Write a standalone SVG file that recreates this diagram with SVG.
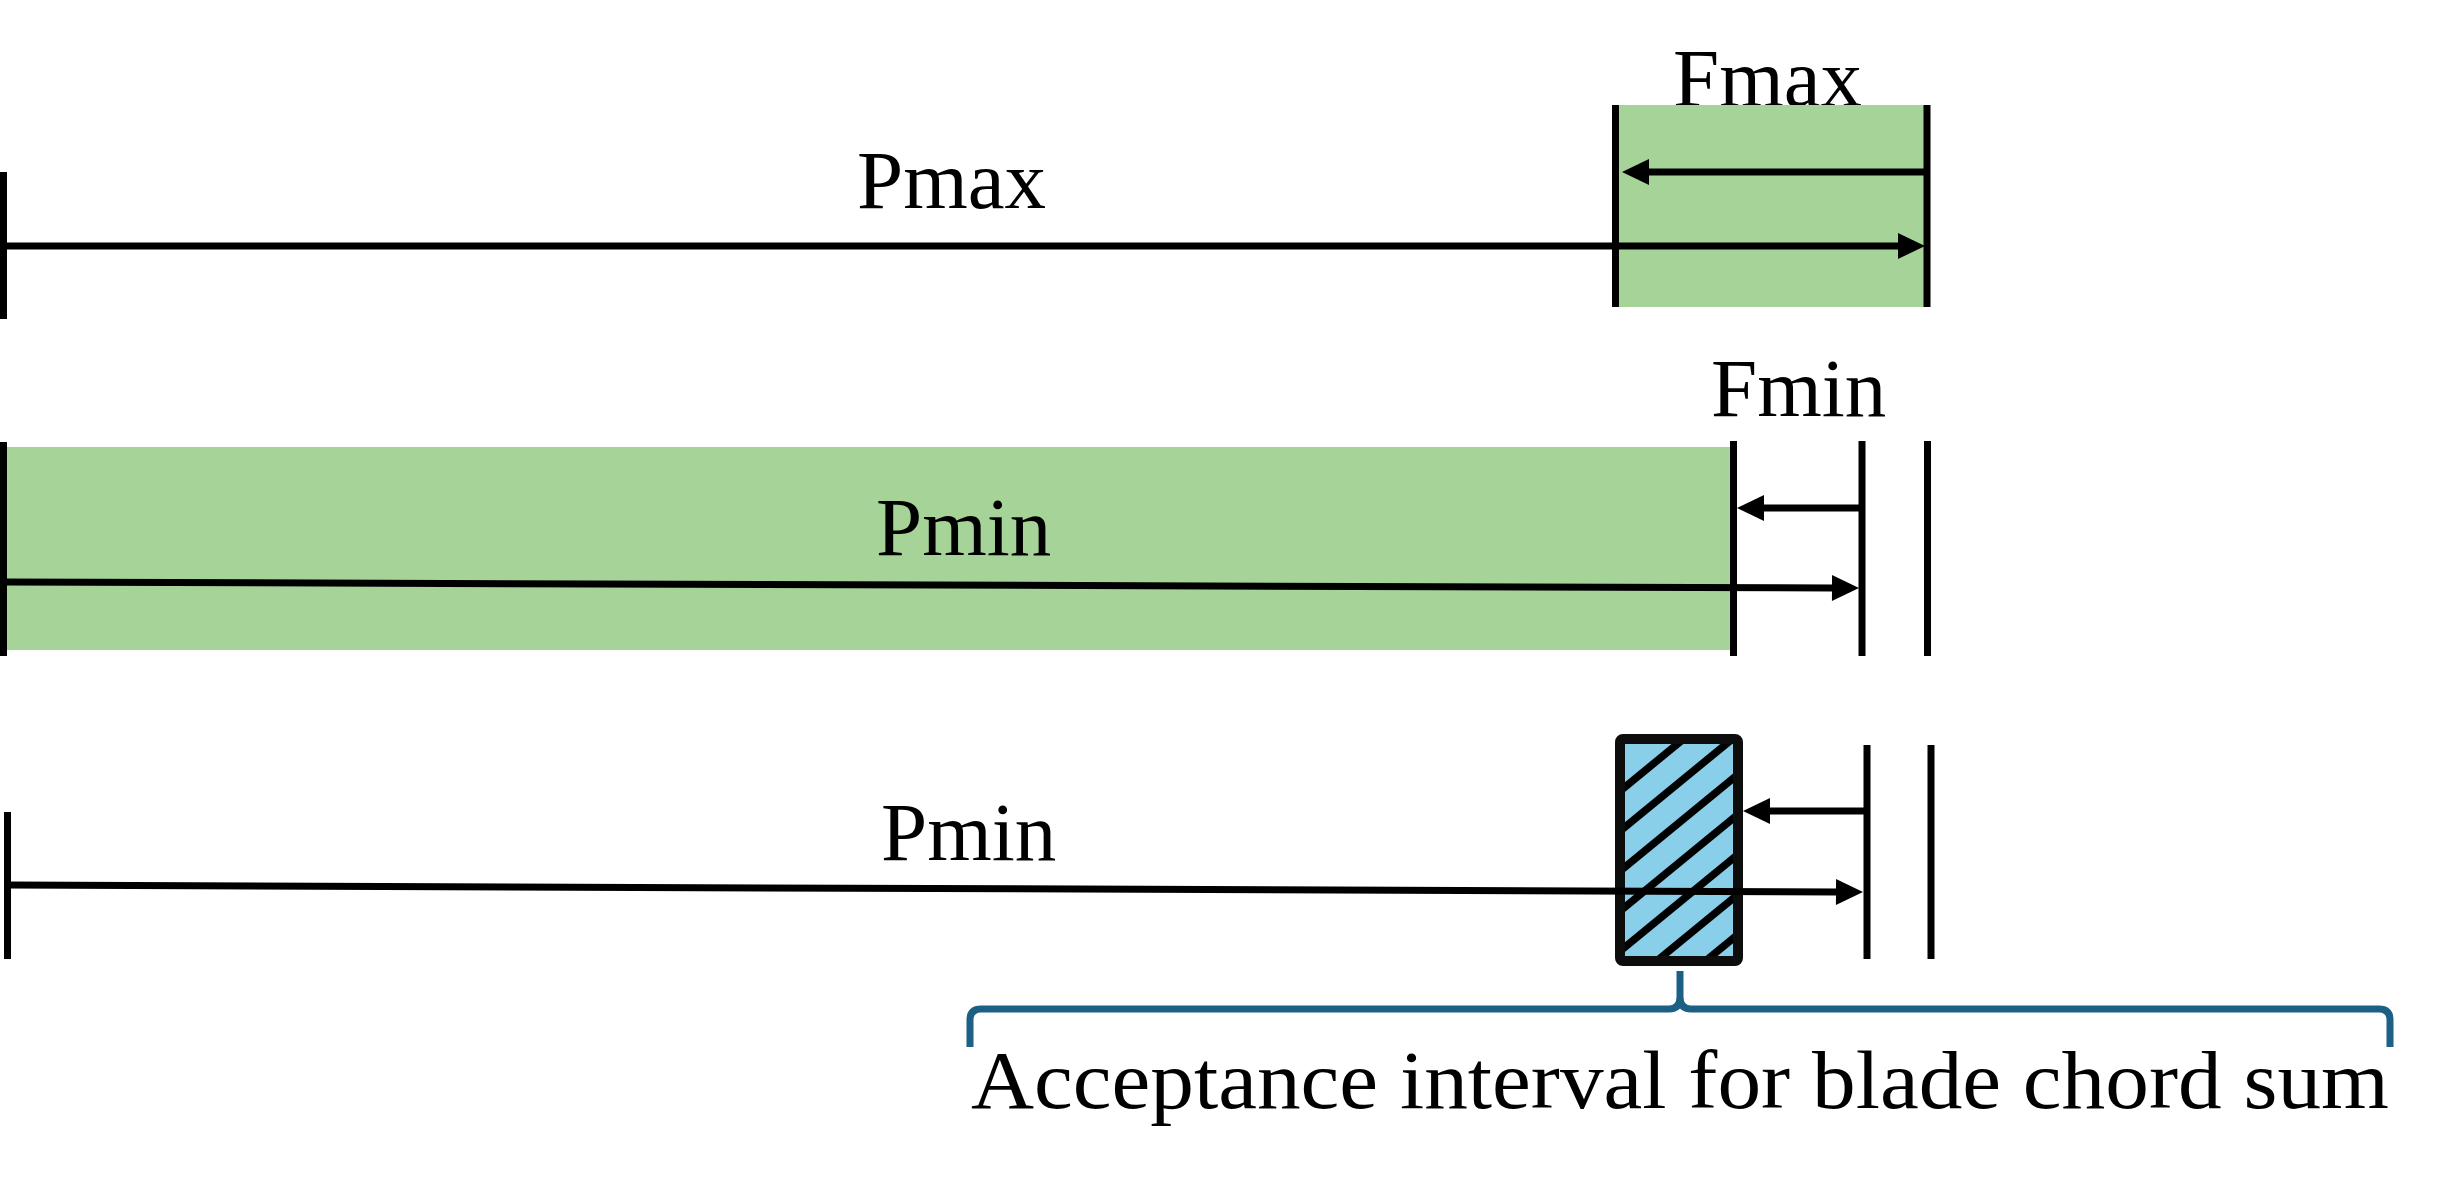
<svg xmlns="http://www.w3.org/2000/svg" width="2461" height="1178" viewBox="0 0 2461 1178">
<style>
.bar{stroke:#000;stroke-width:7;fill:none}
.ln{stroke:#000;stroke-width:7;fill:none}
.arr{stroke:#000;stroke-width:7;fill:none;marker-end:url(#ah)}
.lbl{font-family:"Liberation Serif","Times New Roman",serif;font-size:83px;fill:#000}
.green{fill:#A6D498}
.hatch{stroke:#000;stroke-width:7.5}
.brace{stroke:#1C6185;stroke-width:7;fill:none;stroke-linejoin:round}
</style>
<defs>
<marker id="ah" markerUnits="userSpaceOnUse" markerWidth="28" markerHeight="26" refX="1" refY="13" orient="auto" overflow="visible">
<path d="M0,0 L27,13 L0,26 Z" fill="#000"/>
</marker>
<clipPath id="hc"><rect x="1620" y="739" width="118" height="222"/></clipPath>
</defs>

<g id="row1">
<text class="lbl" x="857" y="208">Pmax</text>
<text class="lbl" x="1673" y="106">Fmax</text>
<rect class="green" x="1615" y="105" width="312" height="202"/>
<line class="bar" x1="3.5" y1="172" x2="3.5" y2="319"/>
<line class="bar" x1="1615.5" y1="105" x2="1615.5" y2="307"/>
<line class="bar" x1="1927" y1="105" x2="1927" y2="307"/>
</g>

<g id="row2">
<rect class="green" x="7" y="447" width="1723" height="203"/>
<text class="lbl" x="876" y="555">Pmin</text>
<text class="lbl" x="1711" y="416">Fmin</text>
<line class="bar" x1="3.5" y1="442" x2="3.5" y2="656"/>
<line class="bar" x1="1733.5" y1="441" x2="1733.5" y2="656"/>
<line class="bar" x1="1862" y1="441" x2="1862" y2="656"/>
<line class="bar" x1="1927.5" y1="441" x2="1927.5" y2="656"/>
</g>

<g id="row3">
<text class="lbl" x="881" y="860">Pmin</text>
<line class="bar" x1="7.5" y1="812" x2="7.5" y2="959"/>
<line class="bar" x1="1867" y1="745" x2="1867" y2="959"/>
<line class="bar" x1="1931" y1="745" x2="1931" y2="959"/>
</g>

<g id="acceptance-box">
<rect x="1620" y="739" width="118" height="222" fill="#89CFEA"/>
<g clip-path="url(#hc)">
<line class="hatch" x1="1600" y1="807.5" x2="1760" y2="676.3"/>
<line class="hatch" x1="1600" y1="847.5" x2="1760" y2="716.3"/>
<line class="hatch" x1="1600" y1="887.5" x2="1760" y2="756.3"/>
<line class="hatch" x1="1600" y1="927.5" x2="1760" y2="796.3"/>
<line class="hatch" x1="1600" y1="967.5" x2="1760" y2="836.3"/>
<line class="hatch" x1="1600" y1="1007.5" x2="1760" y2="876.3"/>
<line class="hatch" x1="1600" y1="1047.5" x2="1760" y2="916.3"/>
</g>
<rect x="1620" y="739" width="118" height="222" rx="3" fill="none" stroke="#0d0d0d" stroke-width="10"/>
</g>

<g id="connectors">
<line class="arr" x1="3.5" y1="246" x2="1899" y2="246"/>
<line class="arr" x1="1927" y1="172" x2="1648" y2="172"/>
<line class="arr" x1="3.5" y1="582" x2="1833" y2="588"/>
<line class="arr" x1="1862" y1="508" x2="1763" y2="508"/>
<line class="arr" x1="7.5" y1="885" x2="1837" y2="892"/>
<line class="arr" x1="1867" y1="811" x2="1769" y2="811"/>
</g>

<g id="brace">
<path class="brace" d="M970,1047 V1020 Q970,1009 981,1009 H1669 Q1680,1009 1680,997 V971 M1680,997 Q1680,1009 1691,1009 H2379 Q2390,1009 2390,1020 V1047"/>
<text class="lbl" x="971" y="1108" font-size="85" textLength="1418" lengthAdjust="spacingAndGlyphs">Acceptance interval for blade chord sum</text>
</g>
</svg>
